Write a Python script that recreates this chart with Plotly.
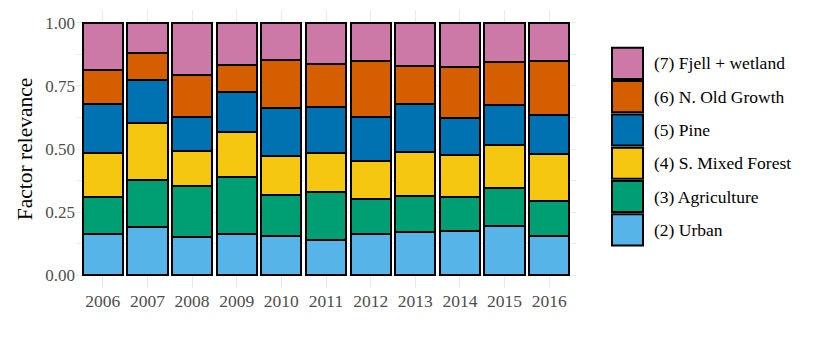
import plotly.graph_objects as go

years = ["2006", "2007", "2008", "2009", "2010", "2011", "2012", "2013", "2014", "2015", "2016"]

urban = [0.162, 0.192, 0.152, 0.165, 0.156, 0.139, 0.165, 0.172, 0.177, 0.197, 0.155]
agriculture = [0.148, 0.184, 0.202, 0.223, 0.161, 0.191, 0.136, 0.142, 0.135, 0.148, 0.141]
mixed_forest = [0.173, 0.228, 0.139, 0.179, 0.155, 0.153, 0.153, 0.175, 0.164, 0.170, 0.186]
pine = [0.195, 0.169, 0.134, 0.158, 0.190, 0.183, 0.172, 0.191, 0.145, 0.161, 0.152]
old_growth = [0.134, 0.108, 0.164, 0.106, 0.190, 0.170, 0.223, 0.148, 0.203, 0.167, 0.213]
fjell = [0.188, 0.119, 0.209, 0.169, 0.148, 0.164, 0.151, 0.172, 0.176, 0.157, 0.153]

names = ["(2) Urban", "(3) Agriculture", "(4) S. Mixed Forest", "(5) Pine",
         "(6) N. Old Growth", "(7) Fjell + wetland"]
series = [urban, agriculture, mixed_forest, pine, old_growth, fjell]
colors = ["#56B4E9", "#009E73", "#F5C710", "#0072B2", "#D55E00", "#CC79A7"]

FONT = "Liberation Serif"

fig = go.Figure()
for name, vals, col in zip(names, series, colors):
    fig.add_trace(go.Bar(
        x=years, y=vals, name=name,
        marker=dict(color=col, line=dict(color="black", width=2)),
        showlegend=False,
    ))

# page body has an 8px margin, so the figure is a bit smaller than the window
W, H = 806, 341
ml, mr, mt, mb = 68, 238, 2, 61
pw, ph = W - ml - mr, H - mt - mb

# hand-made legend (ggplot-style big keys), top entry = last factor
row_h = 33.3
top_px = 46.7 - 8
for i, (name, col) in enumerate(zip(names[::-1], colors[::-1])):
    y0 = top_px + i * row_h
    y1 = y0 + row_h
    fig.add_shape(
        type="rect", xref="paper", yref="paper",
        x0=(612 - 8 - ml) / pw, x1=(643 - 8 - ml) / pw,
        y0=(H - mb - y1) / ph + 0.004, y1=(H - mb - y0) / ph - 0.004,
        fillcolor=col, line=dict(color="black", width=2),
    )
    fig.add_annotation(
        xref="paper", yref="paper",
        x=(652 - 8 - ml) / pw, y=(H - mb - (y0 + y1) / 2) / ph,
        text=name, showarrow=False, xanchor="left", yanchor="middle",
        font=dict(family=FONT, size=17.5, color="black"),
    )

fig.update_layout(
    barmode="stack",
    bargap=0.1,
    width=W, height=H,
    margin=dict(l=ml, r=mr, t=mt, b=mb),
    plot_bgcolor="white",
    paper_bgcolor="white",
    font=dict(family=FONT, size=17, color="#4D4D4D"),
)
fig.update_xaxes(
    range=[-0.6, 10.6],
    showgrid=True, gridcolor="#EBEBEB", gridwidth=1.1,
    ticks="", zeroline=False, showline=False,
    tickfont=dict(family=FONT, size=17.5, color="#4D4D4D"),
)
fig.update_yaxes(
    range=[-0.05, 1.05],
    tickvals=[0, 0.25, 0.5, 0.75, 1.0],
    ticktext=["0.00", "0.25", "0.50", "0.75", "1.00"],
    showgrid=True, gridcolor="#EBEBEB", gridwidth=1.1,
    minor=dict(tickvals=[0.125, 0.375, 0.625, 0.875], showgrid=True,
               gridcolor="#EBEBEB", gridwidth=0.5),
    zeroline=False, showline=False, ticks="",
    title=dict(text="Factor relevance", standoff=6,
               font=dict(family=FONT, size=21.5, color="black")),
    tickfont=dict(family=FONT, size=17, color="#4D4D4D"),
)

fig.write_html("out.html")
